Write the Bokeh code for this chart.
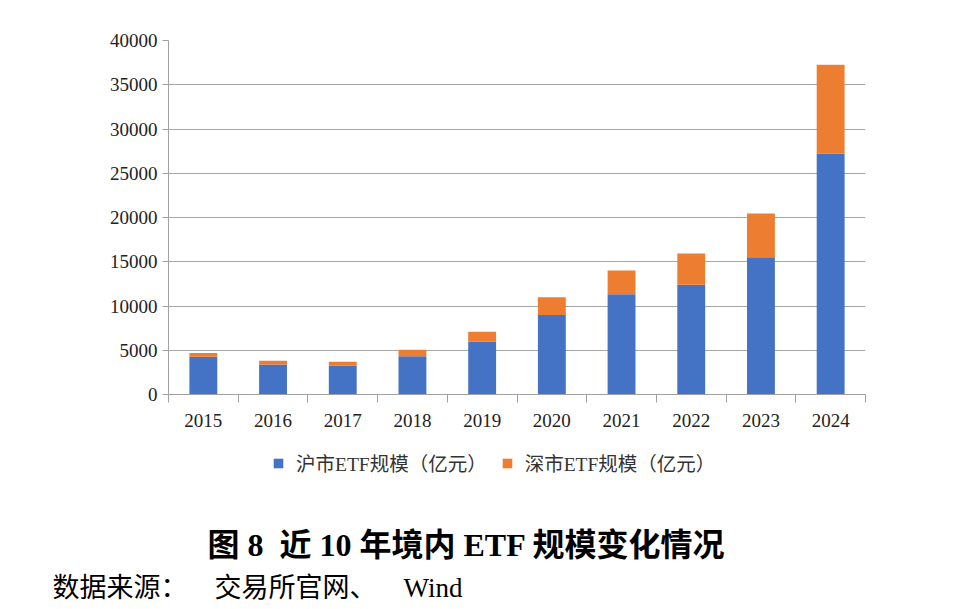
from bokeh.plotting import figure
from bokeh.models import (ColumnDataSource, Range1d, FixedTicker, NumeralTickFormatter,
                          Legend, LegendItem, Title)
from bokeh.layouts import column
from bokeh.embed import file_html
from bokeh.resources import INLINE

years = ["2015", "2016", "2017", "2018", "2019", "2020", "2021", "2022", "2023", "2024"]
sh_values = [4270, 3400, 3250, 4310, 5960, 8970, 11340, 12390, 15520, 27220]
sz_values = [410, 410, 450, 750, 1130, 2030, 2680, 3550, 4930, 10050]
y_ticks = [0, 5000, 10000, 15000, 20000, 25000, 30000, 35000, 40000]

series_names = ["沪市ETF规模（亿元）", "深市ETF规模（亿元）"]
colors = ["#4472C4", "#ED7D31"]
NB = "\u00a0"
title_text = "图 8" + NB * 2 + "近 10 年境内 ETF 规模变化情况"
source_text = "数据来源：" + NB * 4 + "交易所官网、" + NB * 4 + "Wind"

SERIF = "Liberation Serif, Noto Sans CJK SC"
W = 960
LEFT, RIGHT = 168, 95

xs = [i + 0.5 for i in range(len(years))]
src = ColumnDataSource(dict(x=xs, sh=sh_values, sz=sz_values))

# ---------------- chart ----------------
p = figure(width=W, height=440, output_backend="svg", toolbar_location=None,
           x_range=Range1d(0, len(years)), y_range=Range1d(0, 40000),
           min_border_left=LEFT, min_border_right=RIGHT, min_border_top=40,
           min_border_bottom=46)
p.outline_line_color = None
p.xgrid.grid_line_color = None
p.ygrid.grid_line_color = "#a6a6a6"
p.ygrid.grid_line_width = 1

rs = p.vbar_stack(["sh", "sz"], x="x", width=0.4, color=colors, source=src,
                  line_color=None)

xa = p.xaxis[0]
xa.ticker = FixedTicker(ticks=xs, minor_ticks=list(range(len(years) + 1)))
xa.major_label_overrides = {x: y for x, y in zip(xs, years)}
xa.major_tick_line_color = None
xa.minor_tick_line_color = "#a0a0a0"
xa.minor_tick_out = 8
xa.minor_tick_in = 0
xa.axis_line_color = "#a0a0a0"
xa.major_label_text_font = SERIF
xa.major_label_text_font_size = "19px"
xa.major_label_text_color = "#222222"
xa.major_label_standoff = 11

ya = p.yaxis[0]
ya.ticker = FixedTicker(ticks=y_ticks)
ya.formatter = NumeralTickFormatter(format="0")
ya.minor_tick_line_color = None
ya.major_tick_line_color = "#a0a0a0"
ya.major_tick_out = 6
ya.major_tick_in = 0
ya.axis_line_color = "#a0a0a0"
ya.major_label_text_font = SERIF
ya.major_label_text_font_size = "19px"
ya.major_label_text_color = "#222222"
ya.major_label_standoff = 5

# ---------------- legend + captions ----------------
FH = 78
p2 = figure(width=W, frame_height=FH, output_backend="svg", toolbar_location=None,
            x_range=Range1d(0, 1), y_range=Range1d(0, 1),
            x_axis_type=None, y_axis_type=None,
            min_border_left=LEFT, min_border_right=RIGHT, min_border_top=0, min_border_bottom=0)
p2.outline_line_color = None
p2.grid.visible = False

dummies = [p2.vbar(x=[-1000], top=[0], width=1, color=c, line_color=None) for c in colors]
legend = Legend(items=[LegendItem(label=series_names[i], renderers=[dummies[i]]) for i in range(2)],
                orientation="horizontal", location=(104, FH - 37),
                glyph_width=12, glyph_height=12, label_standoff=12, spacing=14,
                label_text_font=SERIF, label_text_font_size="19.5px",
                label_text_color="#333333", border_line_color=None,
                background_fill_alpha=0, padding=4, margin=0)
p2.add_layout(legend, "center")

t1 = Title(text=title_text, align="left", offset=207 - LEFT, text_font=SERIF,
           text_font_size="32px", text_font_style="bold", text_color="#000000",
           standoff=12)
p2.add_layout(t1, "below")
t2 = Title(text=source_text, align="left", offset=52 - LEFT, text_font=SERIF,
           text_font_size="27px", text_font_style="normal", text_color="#000000",
           standoff=4)
p2.add_layout(t2, "below")

layout = column(p, p2, spacing=0)
open("out.html", "w").write(file_html(layout, INLINE))
